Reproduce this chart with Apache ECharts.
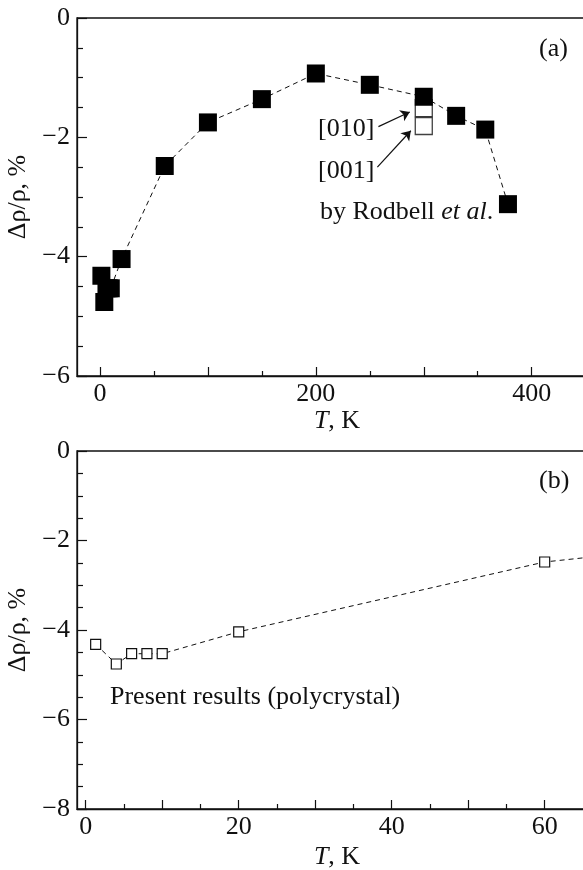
<!DOCTYPE html>
<html>
<head>
<meta charset="utf-8">
<script src="https://cdn.jsdelivr.net/npm/echarts@6/dist/echarts.min.js"></script>
<style>
  html, body { margin: 0; padding: 0; background: #fff; }
  #chart { width: 583px; height: 870px; }
</style>
</head>
<body>
<div id="chart"></div>
<script>
// Temperature (K) and magnetoresistance Δρ/ρ (%) of the polycrystal
const temperature = [1.3, 4, 6, 8, 10, 20, 60, 100, 150, 200, 250, 300, 330, 357, 378];
const deltaRho = [-4.32, -4.76, -4.53, -4.53, -4.53, -4.04, -2.48, -1.75, -1.36, -0.93, -1.12, -1.32, -1.64, -1.87, -3.12];

// Single-crystal values at 300 K (Rodbell et al.)
const crystalT = [300, 300];
const crystalRho = [-1.51, -1.81];
const crystalDir = ['[010]', '[001]'];

// Tick positions
const aMajorTicks = [0, 100, 200, 300, 400];
const aMinorTicks = [50, 150, 250, 350];
const aLabels = [0, 200, 400];
const bMajorTicks = [0, 10, 20, 30, 40, 50, 60];
const bMinorTicks = [5, 15, 25, 35, 45, 55];
const bLabels = [0, 20, 40, 60];

const FONT = 'Liberation Serif';
const INK = '#111';
const PLOT_H = 358;
const PLOT_W = 520;   // runs past the right edge of the page
const fmt = v => (v < 0 ? '\u2212' + Math.abs(v) : String(v));

const pts = (xs, ys) => xs.map((x, i) => [x, ys[i]]);

// main temperature axis: long ticks + labels
function bottomAxis(grid, min, max, ticks, labels, gap) {
  return {
    type: 'value', gridIndex: grid, position: 'bottom', min, max,
    axisLine: { show: true, onZero: false, lineStyle: { color: INK, width: 1.3 } },
    axisTick: { show: true, inside: true, length: 9, customValues: ticks, lineStyle: { color: INK, width: 1.2 } },
    axisLabel: { customValues: labels, formatter: fmt, margin: 5, fontFamily: FONT, fontSize: 26, color: INK },
    splitLine: { show: false },
    name: '{i|T}, K', nameLocation: 'middle', nameGap: gap,
    nameTextStyle: { fontFamily: FONT, fontSize: 26, color: INK,
      rich: { i: { fontFamily: FONT, fontSize: 26, fontStyle: 'italic', color: INK } } }
  };
}
// companion axis carrying only the short ticks, shifted down onto the bottom edge
function minorAxis(grid, min, max, ticks) {
  return {
    type: 'value', gridIndex: grid, position: 'top', offset: -PLOT_H, min, max,
    axisLine: { show: false, onZero: false },
    axisTick: { show: true, inside: false, length: 5, customValues: ticks, lineStyle: { color: INK, width: 1.2 } },
    axisLabel: { show: false }, splitLine: { show: false }
  };
}
function leftAxis(grid, min) {
  return {
    type: 'value', gridIndex: grid, min, max: 0, interval: 2,
    axisLine: { show: true, onZero: false, lineStyle: { color: INK, width: 1.3 } },
    axisTick: { show: true, inside: true, length: 10, lineStyle: { color: INK, width: 1.2 } },
    minorTick: { show: true, splitNumber: 4, length: 6, lineStyle: { color: INK, width: 1.2 } },
    axisLabel: { formatter: fmt, margin: 7, fontFamily: FONT, fontSize: 26, color: INK },
    splitLine: { show: false },
    name: 'Δρ/ρ, %', nameLocation: 'middle', nameGap: 40, nameRotate: 90,
    nameTextStyle: { fontFamily: FONT, fontSize: 26, color: INK }
  };
}

const dashed = { color: INK, width: 1, type: [5, 4] };
const frame = { show: true, borderColor: INK, borderWidth: 1.3, backgroundColor: 'transparent',
                containLabel: false, outerBoundsMode: 'none' };

const option = {
  animation: false,
  backgroundColor: '#fff',
  grid: [
    Object.assign({ left: 77, top: 18, width: PLOT_W, height: PLOT_H }, frame),
    Object.assign({ left: 77, top: 451, width: PLOT_W, height: PLOT_H }, frame)
  ],
  xAxis: [
    bottomAxis(0, -21.3, 460.5, aMajorTicks, aLabels, 28),
    minorAxis(0, -21.3, 460.5, aMinorTicks),
    bottomAxis(1, -1.14, 66.84, bMajorTicks, bLabels, 35),
    minorAxis(1, -1.14, 66.84, bMinorTicks)
  ],
  yAxis: [leftAxis(0, -6), leftAxis(1, -8)],
  series: [
    {
      // single-crystal points, drawn under the polycrystal curve
      type: 'scatter', xAxisIndex: 0, yAxisIndex: 0,
      data: pts(crystalT, crystalRho),
      symbol: 'rect', symbolSize: 17,
      itemStyle: { color: '#fff', borderColor: INK, borderWidth: 1.3 },
      markLine: {
        silent: true, symbol: ['none', 'arrow'], symbolSize: 9,
        label: { show: false },
        lineStyle: { color: INK, width: 1.2, type: 'solid' },
        data: [
          [{ coord: [258, -1.82] }, { coord: [287, -1.575] }],
          [{ coord: [257, -2.50] }, { coord: [288, -1.89] }]
        ]
      },
      z: 2
    },
    {
      type: 'line', xAxisIndex: 0, yAxisIndex: 0,
      data: pts(temperature, deltaRho),
      symbol: 'rect', symbolSize: 18,
      itemStyle: { color: '#000' },
      lineStyle: dashed, z: 3
    },
    {
      type: 'line', xAxisIndex: 2, yAxisIndex: 1,
      data: pts(temperature, deltaRho),
      symbol: 'rect', symbolSize: 10, showAllSymbol: true, clip: true,
      itemStyle: { color: '#fff', borderColor: INK, borderWidth: 1.2 },
      lineStyle: dashed, z: 3
    }
  ],
  graphic: [
    { type: 'text', left: 539, top: 36, style: { text: '(a)', font: `26px "${FONT}"`, fill: INK } },
    { type: 'text', left: 318, top: 116, style: { text: crystalDir[0], font: `26px "${FONT}"`, fill: INK } },
    { type: 'text', left: 318, top: 158, style: { text: crystalDir[1], font: `26px "${FONT}"`, fill: INK } },
    { type: 'text', left: 320, top: 199, style: {
        text: 'by Rodbell {i|et al}.', font: `26px "${FONT}"`, fill: INK,
        rich: { i: { fontFamily: FONT, fontSize: 26, fontStyle: 'italic', fill: INK } } } },
    { type: 'text', left: 539, top: 468, style: { text: '(b)', font: `26px "${FONT}"`, fill: INK } },
    { type: 'text', left: 110, top: 684, style: { text: 'Present results (polycrystal)', font: `26px "${FONT}"`, fill: INK } }
  ]
};

const chart = echarts.init(document.getElementById('chart'), null, { renderer: 'canvas' });
chart.setOption(option);
</script>
</body>
</html>
